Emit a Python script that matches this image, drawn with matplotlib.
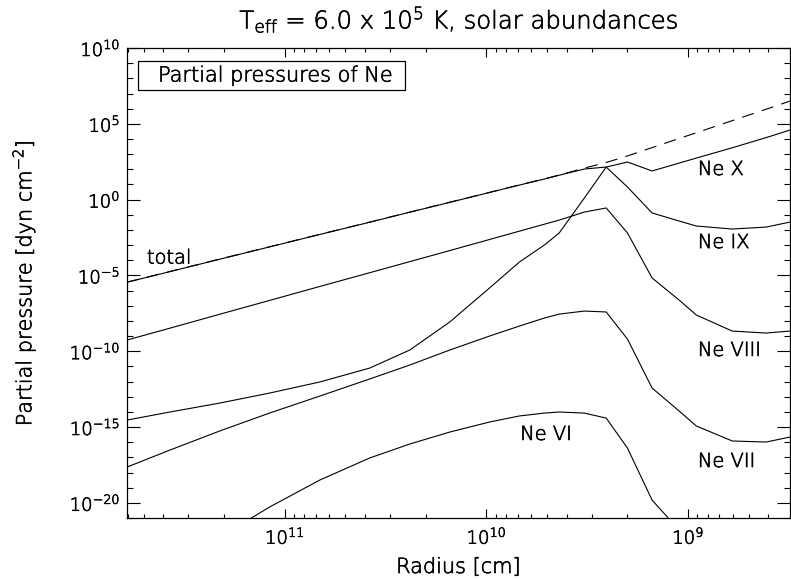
import numpy as np
import matplotlib
matplotlib.use("Agg")
import matplotlib.pyplot as plt
import matplotlib.patheffects as pe
from matplotlib import ticker
from matplotlib.text import Text
from matplotlib.patches import Rectangle

# Radial grid of the model atmosphere [cm]
radius_cm = [6.05e11, 3.71e11, 2.10e11, 1.19e11, 6.71e10, 3.79e10, 2.40e10,
             1.52e10, 9.66e9, 6.87e9, 5.16e9, 4.36e9, 3.27e9, 2.55e9,
             2.00e9, 1.51e9, 1.11e9, 9.12e8, 6.05e8, 4.11e8, 3.13e8]

# log10 of the partial pressures [dyn cm^-2]
log_p_total = [-5.44, -4.74, -3.92, -3.11, -2.29, -1.48, -0.82, -0.17, 0.48,
               0.97, 1.37, 1.62, 2.08, 2.45, 2.88, 3.43, 4.03, 4.41, 5.21,
               5.96, 6.50]
log_p_ne10 = [-14.54, -14.01, -13.42, -12.76, -12.03, -11.11, -9.92, -8.07,
              -5.83, -4.12, -2.99, -2.20, 0.11, 2.15, 2.48, 1.89, 2.41, 2.74,
              3.42, 4.09, 4.59]
log_p_ne9 = [-5.45, -4.75, -3.93, -3.12, -2.30, -1.49, -0.83, -0.18, 0.47,
             0.96, 1.36, 1.61, 2.02, 2.15, 0.83, -0.88, -1.41, -1.74, -1.94,
             -1.81, -1.48]
log_p_ne8 = [-9.26, -8.48, -7.56, -6.65, -5.73, -4.82, -4.09, -3.36, -2.63,
             -2.08, -1.62, -1.35, -0.82, -0.55, -2.20, -5.17, -6.62, -7.61,
             -8.67, -8.80, -8.67]
log_p_ne7 = [-17.64, -16.52, -15.26, -14.08, -12.96, -11.83, -10.91, -9.92,
             -9.00, -8.34, -7.81, -7.55, -7.35, -7.41, -9.20, -12.43, -13.94,
             -14.93, -15.92, -15.99, -15.66]
log_p_ne6 = [-26.41, -24.43, -22.26, -20.28, -18.50, -17.04, -16.12, -15.33,
             -14.67, -14.27, -14.08, -14.01, -14.08, -14.41, -16.39, -19.82,
             -21.79, -23.00, -25.50, -27.50, -29.00]

ion_series = [log_p_ne10, log_p_ne9, log_p_ne8, log_p_ne7, log_p_ne6]

plt.rcParams["font.family"] = ["DejaVu Sans"]
plt.rcParams["font.weight"] = "light"
plt.rcParams["axes.titleweight"] = "light"
plt.rcParams["axes.labelweight"] = "light"
plt.rcParams["mathtext.default"] = "regular"

fig = plt.figure(figsize=(7.91, 5.80), dpi=100)
ax = fig.add_axes([0.1606, 0.1069, 0.8381, 0.8103])

r = np.array(radius_cm)
for series in ion_series:
    ax.plot(r, 10.0 ** np.array(series), color="black", lw=0.8)
ax.plot(r, 10.0 ** np.array(log_p_total), color="black", lw=0.8,
        ls=(0, (11, 7.5)))

ax.set_xscale("log")
ax.set_yscale("log")
ax.set_xlim(radius_cm[0], radius_cm[-1])
ax.set_ylim(1e-21, 1e10)

ax.yaxis.set_major_locator(ticker.FixedLocator(10.0 ** np.arange(-20, 11, 5)))
ax.yaxis.set_minor_locator(ticker.FixedLocator(10.0 ** np.arange(-21, 11)))
ax.yaxis.set_major_formatter(ticker.LogFormatterSciNotation())
ax.yaxis.set_minor_formatter(ticker.NullFormatter())
ax.xaxis.set_major_locator(ticker.LogLocator(base=10, numticks=20))
ax.xaxis.set_minor_locator(ticker.LogLocator(base=10, subs=np.arange(2, 10),
                                             numticks=50))
ax.xaxis.set_minor_formatter(ticker.NullFormatter())

ax.tick_params(which="both", direction="in", top=True, right=True,
               width=0.8, color="black", labelsize=13)
ax.tick_params(axis="x", which="major", length=6.5, pad=7)
ax.tick_params(axis="x", which="minor", length=3.2)
ax.tick_params(axis="y", which="major", length=9.4, pad=5)
ax.tick_params(axis="y", which="minor", length=4.6)
for sp in ax.spines.values():
    sp.set_linewidth(0.9)

ax.set_title(r"T$_{\rm eff}$ = 6.0 x 10$^{5}$ K, solar abundances",
             fontsize=17.5, pad=14)
ax.set_xlabel("Radius [cm]", fontsize=15)
ax.set_ylabel(r"Partial pressure [dyn cm$^{-2}$]", fontsize=15)
ax.xaxis.set_label_coords(0.5, -0.083)
ax.yaxis.set_label_coords(-0.134, 0.5)

# Title box inside the plot
ax.add_patch(Rectangle((0.0166, 0.9106), 0.4027, 0.0617,
                       transform=ax.transAxes, fill=False,
                       edgecolor="black", lw=0.9))
ax.text(0.0468, 0.9415, "Partial pressures of Ne", transform=ax.transAxes,
        fontsize=15, va="center", ha="left")

# Curve labels
label_kw = dict(transform=ax.transAxes, fontsize=14, va="center", ha="left")
ax.text(0.030, 0.553, "total", **label_kw)
ax.text(0.861, 0.7415, "Ne X", **label_kw)
ax.text(0.861, 0.586, "Ne IX", **label_kw)
ax.text(0.861, 0.3564, "Ne VIII", **label_kw)
ax.text(0.861, 0.1202, "Ne VII", **label_kw)
ax.text(0.593, 0.1777, "Ne VI", **label_kw)

# Thin, dark strokes for all lettering
fig.canvas.draw()
for t in fig.findobj(Text):
    t.set_color("black")
    t.set_path_effects([pe.withStroke(linewidth=0.45, foreground="black")])

fig.savefig("out.png", dpi=100)
